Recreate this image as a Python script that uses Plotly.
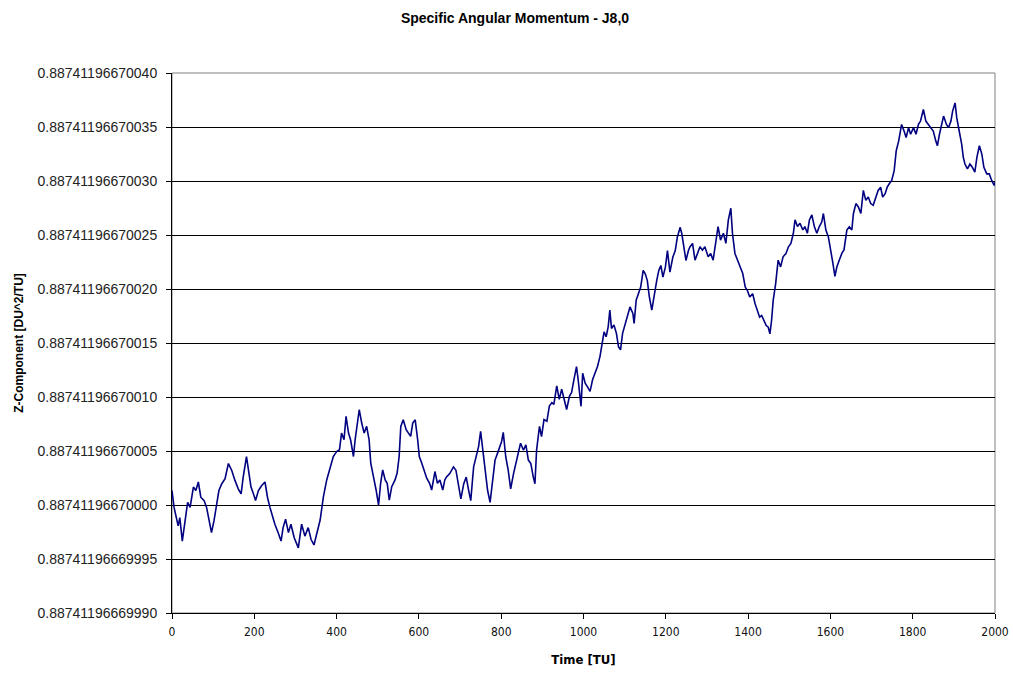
import plotly.graph_objects as go

# Time [TU]
time_tu = [0, 5, 15, 19, 25, 31, 38, 44, 52, 58, 64, 70, 78, 84, 92, 96, 102, 108, 114, 121,
           129, 137, 145, 153, 161, 168, 173, 181, 187, 192, 198, 203, 210, 218, 226, 232, 238, 244, 250, 258,
           265, 270, 276, 283, 289, 297, 307, 315, 323, 331, 338, 345, 352, 358,
           360, 368, 376, 384, 392, 400, 407, 412, 418, 423, 429, 434, 441, 445, 450, 455, 461, 467, 473, 479,
           483, 490, 496, 502, 507, 512, 518, 523, 528, 534, 542, 547, 552, 556, 562, 569, 575, 580, 585, 591,
           597, 601, 607, 612, 619, 626, 631, 639, 645, 651, 658, 663,
           667, 675, 684, 690, 696, 702, 709, 715, 721, 726, 733, 739, 745, 750, 755, 761, 767, 773, 779, 785,
           791, 797, 801, 805, 811, 817, 823, 830, 836, 842, 847, 854, 860, 866, 872, 878, 882, 886, 893, 898,
           904, 911, 917, 923, 928, 935, 941, 947, 953, 959, 966, 971, 977,
           983, 987, 991, 994, 998, 1004, 1009, 1016, 1022, 1028, 1034, 1040, 1047, 1050, 1055, 1060, 1064, 1068,
           1074, 1080, 1085, 1090, 1095, 1101, 1107, 1113, 1120, 1123, 1128, 1134, 1139, 1145, 1150, 1155, 1160,
           1166, 1172, 1178, 1183, 1188, 1193, 1199, 1204, 1210, 1217, 1223, 1228, 1235, 1239, 1245, 1249, 1255,
           1259, 1265, 1271, 1277, 1283, 1289, 1295, 1303, 1309, 1315, 1322, 1327, 1333, 1340, 1346, 1352, 1358,
           1362, 1368, 1374, 1380, 1387, 1393, 1398, 1404, 1411, 1417, 1423, 1428, 1433, 1439, 1444, 1449, 1453,
           1457, 1461, 1467, 1473, 1479, 1485, 1492, 1498, 1504, 1510, 1514, 1520, 1526, 1533, 1538, 1544, 1549,
           1555, 1561, 1567, 1573,
           1579, 1583, 1589, 1595, 1601, 1606, 1611, 1616, 1622, 1628, 1633, 1640, 1646, 1652, 1656, 1662, 1668,
           1674, 1680, 1686, 1692, 1698, 1704, 1710, 1716, 1722, 1727, 1733, 1738, 1743, 1749, 1755, 1760, 1766,
           1769, 1773, 1779, 1784, 1790, 1795, 1802, 1808, 1814, 1819, 1826, 1832, 1838, 1844, 1850, 1856, 1860,
           1865, 1871, 1875, 1882, 1887, 1893, 1897, 1903, 1907, 1913, 1919, 1923, 1927, 1933, 1939, 1945, 1951,
           1956, 1962, 1968, 1973, 1980, 1986, 1992, 1998, 2000]

# Z-component, as offset from 0.88741196670000 in units of 1e-14 DU^2/TU
z_offset = [1.34, -0.22, -1.94, -1.16, -3.34, -1.78, 0.25, -0.22, 1.66, 1.34, 2.13, 0.72, 0.41, -0.22, -1.78, -2.56, -1.47, 0.09, 1.34, 1.97,
            2.44, 3.84, 3.22, 2.28, 1.50, 1.03, 2.59, 4.47, 2.91, 1.66, 1.03, 0.41, 1.34, 1.81, 2.13, 0.72, -0.22, -1.00, -1.78, -2.56,
            -3.34, -2.09, -1.31, -2.56, -1.78, -3.03, -3.97, -1.78, -2.88, -2.09, -3.20, -3.70, -2.60, -1.60,
            -1.39, 0.77, 2.32, 3.41, 4.49, 4.95, 5.11, 6.66, 6.04, 8.20, 6.66, 6.04, 4.49, 6.04, 7.28, 8.82, 7.59, 6.66, 7.28, 6.04,
            3.87, 2.63, 1.39, 0.00, 2.01, 3.25, 2.32, 2.01, 0.46, 1.70, 2.32, 2.94, 4.49, 7.28, 7.89, 6.97, 6.66, 6.35, 7.59, 7.89,
            6.04, 4.49, 3.87, 3.25, 2.48, 2.01, 1.39, 3.10, 2.01, 2.32, 1.39, 2.32,
            2.59, 2.91, 3.53, 3.22, 1.97, 0.56, 1.97, 2.59, 1.34, 0.41, 3.53, 4.47, 5.41, 6.81, 5.09, 3.22, 1.34, 0.25, 1.97, 4.16,
            4.78, 5.41, 5.88, 6.72, 4.47, 3.22, 1.50, 2.91, 3.84, 4.78, 5.72, 5.09, 5.56, 4.16, 3.84, 2.59, 1.97, 5.09, 7.28, 6.34,
            7.91, 7.75, 9.16, 9.47, 9.31, 11.03, 9.78, 10.72, 9.78, 8.84, 10.09, 10.41, 11.66,
            12.82, 11.60, 9.75, 9.14, 12.20, 11.29, 10.98, 10.52, 11.60, 12.20, 12.82, 13.74, 15.28, 16.04, 15.58, 16.50, 18.04, 16.35,
            16.66, 15.89, 14.66, 14.36, 15.89, 16.66, 17.42, 18.34, 17.73, 16.81, 18.96, 19.57, 20.18, 21.72, 21.41, 20.80, 19.26,
            18.04, 19.57, 20.80, 21.72, 22.18, 21.10, 22.02, 23.56, 21.56, 22.94, 23.56, 24.79, 25.71, 25.09, 23.56, 22.64, 23.56,
            23.91, 24.22, 22.67, 23.29, 23.91, 23.60, 23.91, 22.98, 23.29, 22.67, 24.53, 25.78, 24.53, 25.16, 24.22, 26.40, 27.48,
            25.16, 23.29, 22.67, 22.05, 21.43, 20.19, 19.88, 19.25, 19.57, 18.63, 18.01, 17.39, 17.55, 17.08, 16.61, 16.46, 15.84,
            17.08, 18.94, 20.50, 22.67, 22.05, 22.98, 23.29, 23.91, 24.22, 25.16, 26.40, 25.78, 26.09, 25.47, 25.78, 25.16, 26.40,
            26.86, 25.78, 25.16, 25.78,
            26.20, 26.99, 25.46, 24.85, 23.62, 22.40, 21.18, 22.09, 22.71, 23.32, 23.62, 25.46, 25.76, 25.46, 26.99, 27.91, 27.60,
            26.99, 29.13, 28.21, 28.52, 27.91, 27.75, 28.52, 29.13, 29.43, 28.52, 28.82, 29.43, 29.74, 30.05, 30.96, 32.80, 33.72,
            34.33, 35.24, 34.63, 34.02, 34.94, 34.33, 34.94, 34.33, 35.24, 35.55, 36.62, 35.55, 35.24, 34.94, 34.63, 33.72, 33.26,
            34.33, 35.24, 36.01, 35.24, 34.94, 35.55, 36.47, 37.23, 35.86, 34.63, 33.41, 32.19, 31.57, 31.12, 31.57, 31.27, 30.81,
            32.19, 33.26, 32.49, 31.27, 30.66, 30.66, 30.05, 29.59, 29.89]

y_tick_offsets = [-10, -5, 0, 5, 10, 15, 20, 25, 30, 35, 40]
y_tick_labels = ["0.88741196669990", "0.88741196669995", "0.88741196670000", "0.88741196670005",
                 "0.88741196670010", "0.88741196670015", "0.88741196670020", "0.88741196670025",
                 "0.88741196670030", "0.88741196670035", "0.88741196670040"]
x_ticks = [0, 200, 400, 600, 800, 1000, 1200, 1400, 1600, 1800, 2000]

NARROW = "Liberation Sans Narrow, DejaVu Sans Condensed, Arial Narrow, Liberation Sans"

fig = go.Figure()
fig.add_trace(go.Scatter(x=time_tu, y=z_offset, mode="lines",
                         line=dict(color="#000080", width=1.6), showlegend=False))

fig.update_layout(
    width=1013, height=675,
    margin=dict(l=172, r=18, t=73, b=62, autoexpand=False),
    paper_bgcolor="white", plot_bgcolor="white",
    title=dict(text="<b>Specific Angular Momentum - J8,0</b>", x=515 / 1013, xanchor="center",
               y=1 - 18 / 675, yanchor="middle", font=dict(family="Liberation Sans, Arial", size=14, color="black")),
    font=dict(family="Liberation Sans, Arial", color="black"),
    shapes=[dict(type="rect", xref="paper", yref="paper", x0=0, y0=0, x1=1, y1=1,
                 line=dict(color="#808080", width=1), layer="below")],
)
fig.update_xaxes(range=[0, 2000], tickvals=x_ticks, ticktext=[str(v) for v in x_ticks],
                 showgrid=False, zeroline=False, showline=True, linecolor="black", linewidth=1,
                 ticks="outside", ticklen=5, tickcolor="black", ticklabelstandoff=3, automargin=False,
                 tickfont=dict(family=NARROW, size=12, color="#111"),
                 title=dict(text="<b>Time [TU]</b>", standoff=16,
                            font=dict(family=NARROW, size=13, color="black")))
fig.update_yaxes(range=[-10, 40], tickvals=y_tick_offsets, ticktext=y_tick_labels,
                 showgrid=True, gridcolor="black", gridwidth=1, zeroline=False,
                 showline=True, linecolor="black", linewidth=1,
                 ticks="outside", ticklen=5, tickcolor="black", ticklabelstandoff=6, automargin=False,
                 tickfont=dict(family="Liberation Sans, Arial", size=14, color="#222"),
                 title=dict(text="<b>Z-Component [DU^2/TU]</b>", standoff=11,
                            font=dict(family="Liberation Sans, Arial", size=12, color="black")))

fig.write_html("out.html", config={"displayModeBar": False},
               post_script="document.body.style.margin='0';document.body.style.overflow='hidden';")
